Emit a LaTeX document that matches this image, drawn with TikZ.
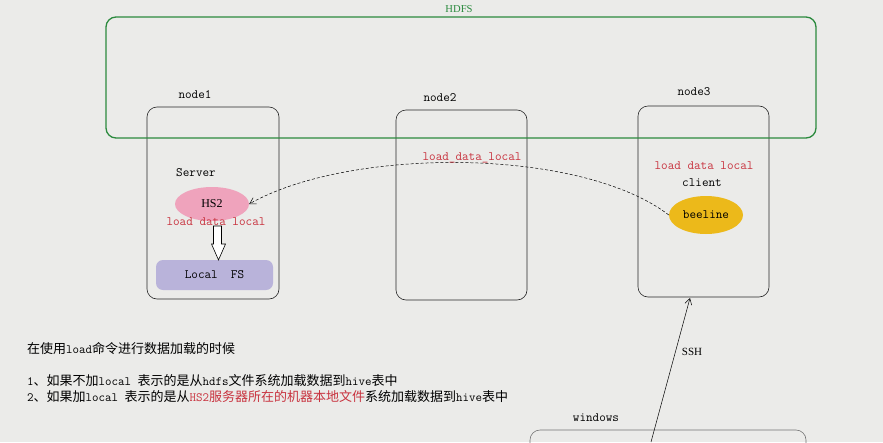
\documentclass[tikz,border=0pt]{standalone}
\usepackage{fontspec}
\setmainfont{Liberation Serif}
\newfontfamily\cjk{Noto Sans CJK SC}
\newfontfamily\lmmono{Latin Modern Mono}
\usetikzlibrary{shapes.geometric,arrows.meta}
\definecolor{bgc}{HTML}{EBEBE9}
\definecolor{hdfsgreen}{HTML}{2B8A3E}
\definecolor{redtxt}{HTML}{C8323E}
\definecolor{pinkfill}{HTML}{EFA3BC}
\definecolor{lavfill}{HTML}{B9B3DA}
\definecolor{goldfill}{HTML}{ECB91A}
\newcommand\lt[1]{{\lmmono\fontsize{12.6}{14}\selectfont #1}}
\begin{document}
\begin{tikzpicture}[x=1pt,y=-1pt,
  machine/.style={draw=black!85,rounded corners=10pt,line width=0.6pt,inner sep=0pt},
  mono/.style={font=\lmmono\fontsize{12.8}{14}\selectfont,inner sep=0pt},
  redlabel/.style={mono,text=redtxt},
  conn/.style={line width=0.5pt,-{Straight Barb[length=6pt,width=7pt]}}]
\fill[bgc] (0,0) rectangle (883,442);
\useasboundingbox (0,0) rectangle (883,442);
% machines
\node[machine,minimum width=132pt,minimum height=192pt] (node1) at (213,203) {};
\node[machine,minimum width=131pt,minimum height=190pt] (node2) at (461.5,205) {};
\node[machine,minimum width=131pt,minimum height=191pt] (node3) at (703.5,201.5) {};
\node[machine,draw=black!55,minimum width=276pt,minimum height=40pt] (win) at (668,450) {};
% HDFS
\node[draw=hdfsgreen,line width=1.3pt,rounded corners=10pt,minimum width=710pt,minimum height=121pt] (hdfs) at (461,77.5) {};
\node[text=hdfsgreen,font=\fontsize{10.6}{12}\selectfont,inner sep=0pt] (hdfslbl) at (459,9) {HDFS};
% labels
\node[mono] (n1lbl) at (195,95) {node1};
\node[mono] (n2lbl) at (440,98) {node2};
\node[mono] (n3lbl) at (694,92) {node3};
\node[mono] (winlbl) at (596,418) {windows};
% node1 content
\node[mono] (server) at (196,173) {Server};
\node[ellipse,fill=pinkfill,minimum width=74pt,minimum height=34pt,inner sep=0pt,font=\fontsize{12}{14}\selectfont] (hs2) at (212,204) {HS2};
\node[redlabel] (ldl1) at (216,222) {load data local};
\node[fill=lavfill,rounded corners=7pt,minimum width=117pt,minimum height=30pt,inner sep=0pt,mono] (lfs) at (214.5,275) {Local\ \ FS};
\draw[fill=white,line width=0.6pt] (213.5,226) -- (221.5,226) -- (221.5,244) -- (225.5,244) -- (218.5,260) -- (211.5,244) -- (213.5,244) -- cycle;
% node3 content
\node[redlabel] (ldl3) at (704,166) {load data local};
\node[mono] (client) at (702,183) {client};
\node[ellipse,fill=goldfill,minimum width=74pt,minimum height=38pt,inner sep=0pt,mono] (bee) at (706,215) {beeline};
% curve
\draw[conn,dashed,dash pattern=on 3pt off 2pt] (bee.west) .. controls (580,147) and (350,147) .. (hs2.east);
\node[redlabel] (ldlmid) at (472,158) {load\_data\_local};
% SSH
\coordinate (winpt) at (651,442);
\coordinate (sshtop) at (690,298);
\draw[conn] (winpt) -- (sshtop);
\node[font=\fontsize{11}{13}\selectfont,inner sep=0pt] (ssh) at (692,352) {SSH};
% text
\begin{scope}[every node/.style={anchor=west,inner sep=0pt,font=\cjk\fontsize{13}{15}\selectfont}]
\node (t0) at (27,349) {在使用\lt{load}命令进行数据加载的时候};
\node (t1) at (27,381) {\lt{1}、如果不加\lt{local }表示的是从\lt{hdfs}文件系统加载数据到\lt{hive}表中};
\node (t2) at (27,397) {\lt{2}、如果加\lt{local }表示的是从\textcolor{redtxt}{\lt{HS2}服务器所在的机器本地文件}系统加载数据到\lt{hive}表中};
\end{scope}
\end{tikzpicture}
\end{document}
